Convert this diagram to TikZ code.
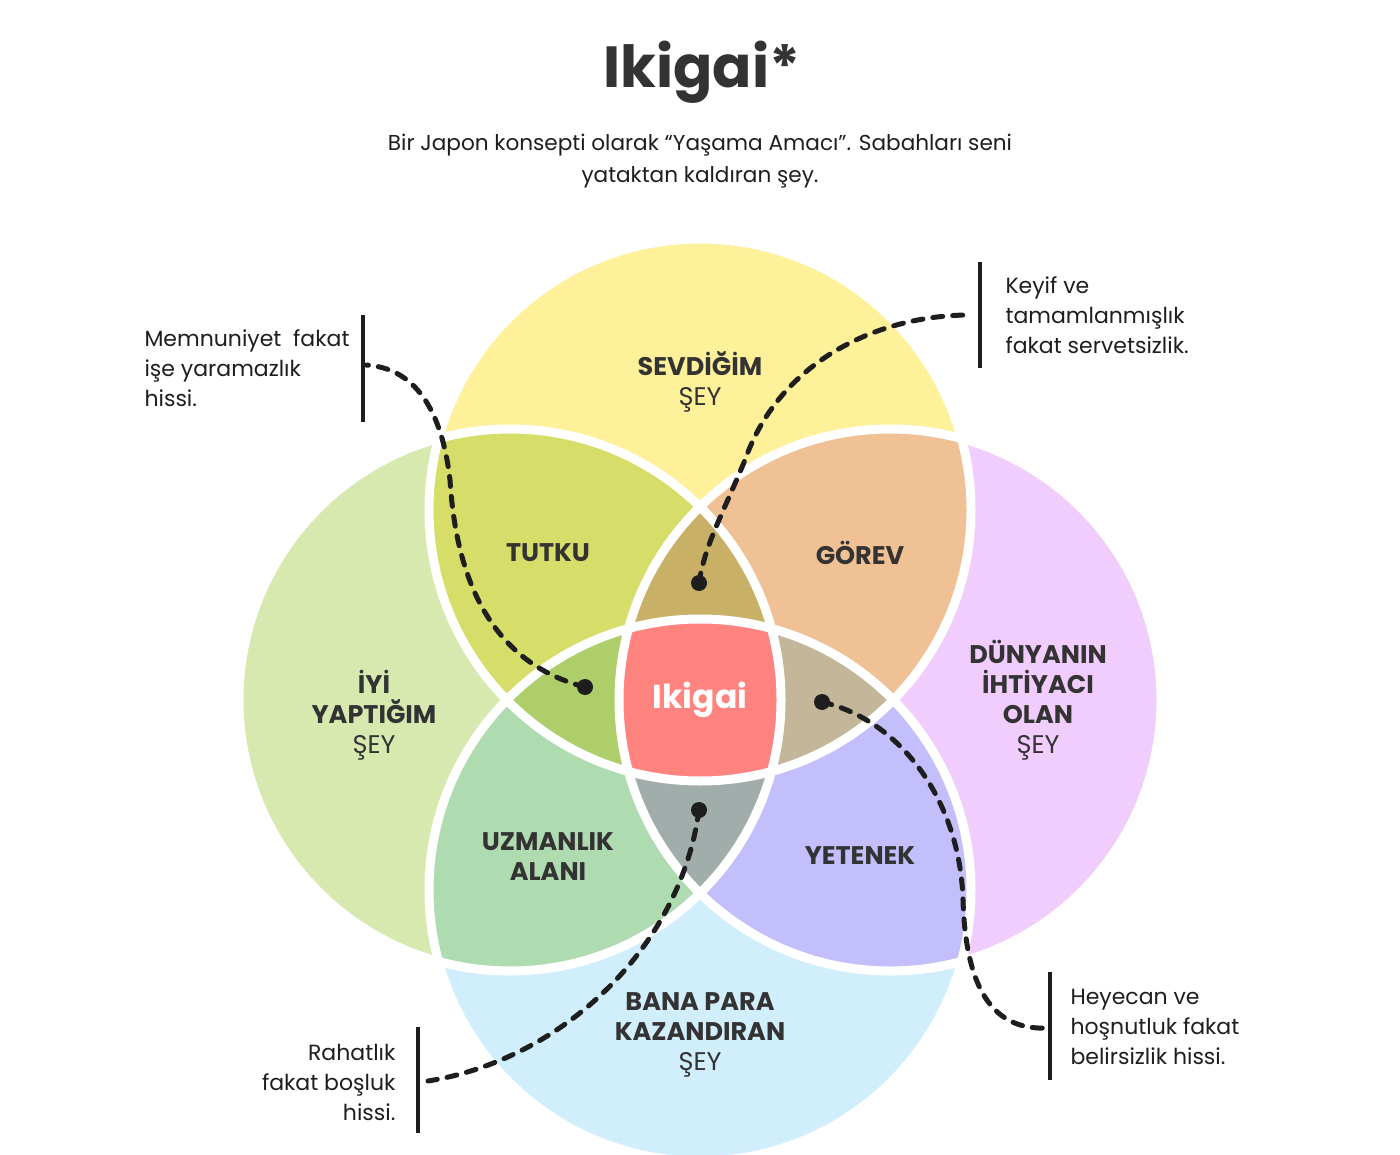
\documentclass[tikz,border=0pt]{standalone}
\usepackage{fontspec}
\setmainfont{Poppins}
\definecolor{cTop}{HTML}{FFF19A}
\definecolor{cLeft}{HTML}{D7E9AF}
\definecolor{cRight}{HTML}{F0CDFC}
\definecolor{cBot}{HTML}{D1EEFD}
\definecolor{cTL}{HTML}{D6DD68}
\definecolor{cTR}{HTML}{EFC195}
\definecolor{cLB}{HTML}{AEDBB0}
\definecolor{cRB}{HTML}{C3BFFC}
\definecolor{cTLR}{HTML}{C8B066}
\definecolor{cTLB}{HTML}{AECE6A}
\definecolor{cTRB}{HTML}{C3B699}
\definecolor{cLRB}{HTML}{A1ADAB}
\definecolor{cAll}{HTML}{FF8480}
\definecolor{ink}{HTML}{333333}
\definecolor{lineink}{HTML}{1E1E1E}
\tikzset{
  lbl/.style={text=ink, align=center, font={\fontsize{25.5}{30}\selectfont\bfseries}},
  note/.style={text=lineink, font={\fontsize{22}{30}\selectfont}},
  barline/.style={draw=lineink, line width=4.5pt},
  dashcurve/.style={draw=lineink, line width=5pt, line cap=round, dash pattern=on 10pt off 10pt},
  dotnode/.style={circle, fill=lineink, inner sep=0pt, minimum size=16pt},
  whiteline/.style={draw=white, line width=9pt}
}
\begin{document}
\begin{tikzpicture}[x=1pt,y=-1pt]
\useasboundingbox (0,0) rectangle (1400,1155);
\def\R{271pt}
\coordinate (T) at (700,510);
\coordinate (L) at (510,700);
\coordinate (R) at (890,700);
\coordinate (B) at (700,890);
% base circles
\fill[cTop] (T) circle[radius=\R];
\fill[cLeft] (L) circle[radius=\R];
\fill[cRight] (R) circle[radius=\R];
\fill[cBot] (B) circle[radius=\R];
% pairs
\begin{scope}\clip (T) circle[radius=\R]; \fill[cTL] (L) circle[radius=\R];\end{scope}
\begin{scope}\clip (T) circle[radius=\R]; \fill[cTR] (R) circle[radius=\R];\end{scope}
\begin{scope}\clip (L) circle[radius=\R]; \fill[cLB] (B) circle[radius=\R];\end{scope}
\begin{scope}\clip (R) circle[radius=\R]; \fill[cRB] (B) circle[radius=\R];\end{scope}
% triples
\begin{scope}\clip (T) circle[radius=\R]; \clip (L) circle[radius=\R]; \fill[cTLR] (R) circle[radius=\R];\end{scope}
\begin{scope}\clip (T) circle[radius=\R]; \clip (L) circle[radius=\R]; \fill[cTLB] (B) circle[radius=\R];\end{scope}
\begin{scope}\clip (T) circle[radius=\R]; \clip (R) circle[radius=\R]; \fill[cTRB] (B) circle[radius=\R];\end{scope}
\begin{scope}\clip (L) circle[radius=\R]; \clip (R) circle[radius=\R]; \fill[cLRB] (B) circle[radius=\R];\end{scope}
% all four
\begin{scope}\clip (T) circle[radius=\R]; \clip (L) circle[radius=\R]; \clip (R) circle[radius=\R]; \fill[cAll] (B) circle[radius=\R];\end{scope}
% white outlines
\draw[whiteline] (T) circle[radius=\R];
\draw[whiteline] (L) circle[radius=\R];
\draw[whiteline] (R) circle[radius=\R];
\draw[whiteline] (B) circle[radius=\R];

% title
\node[text=ink, font={\fontsize{58}{64}\selectfont\bfseries}] (title) at (702,72) {Ikigai*};
\node[text=lineink, align=center, font={\fontsize{21.6}{32}\selectfont}] (sub) at (700,161)
  {Bir Japon konsepti olarak “Yaşama Amacı”. Sabahları seni\\yataktan kaldıran şey.};

% labels
\node[lbl] (sev) at (700,382) {SEVDİĞİM\\{\mdseries ŞEY}};
\node[lbl] (tut) at (548,553) {TUTKU};
\node[lbl] (gor) at (860,553) {GÖREV};
\node[lbl] (iyi) at (374,715) {İYİ\\YAPTIĞIM\\{\mdseries ŞEY}};
\node[lbl] (dun) at (1038,700) {DÜNYANIN\\İHTİYACI\\OLAN\\{\mdseries ŞEY}};
\node[lbl] (uzm) at (548,857) {UZMANLIK\\ALANI};
\node[lbl] (yet) at (860,856) {YETENEK};
\node[lbl] (ban) at (700,1035) {BANA PARA\\KAZANDIRAN\\{\mdseries ŞEY}};
\node[text=white, font={\fontsize{33}{40}\selectfont\bfseries}] (iki) at (700,700) {Ikigai};

% callout 1
\node[note, anchor=west, align=left] (n1) at (141,368) {Memnuniyet\ \ fakat\\işe yaramazlık\\hissi.};
\coordinate (b1t) at (363,315); \coordinate (b1b) at (363,422); \coordinate (b1m) at (366,365);
\draw[barline] (b1t) -- (b1b);
\node[dotnode] (d1) at (585,687) {};
\draw[dashcurve] (d1.center) .. controls (480,660) and (455,560) .. (450,480)
  .. controls (442,410) and (415,368) .. (b1m);

% callout 2
\node[note, anchor=west, align=left] (n2) at (1002,315) {Keyif ve\\tamamlanmışlık\\fakat servetsizlik.};
\coordinate (b2t) at (980,262); \coordinate (b2b) at (980,368); \coordinate (b2m) at (970,315);
\draw[barline] (b2t) -- (b2b);
\node[dotnode] (d2) at (699,583) {};
\draw[dashcurve] (d2.center) .. controls (705,545) and (720,520) .. (745,460)
  .. controls (780,360) and (880,315) .. (b2m);

% callout 3
\node[note, anchor=west, align=left] (n3) at (1067,1027) {Heyecan ve\\hoşnutluk fakat\\belirsizlik hissi.};
\coordinate (b3t) at (1050,972); \coordinate (b3b) at (1050,1080); \coordinate (b3m) at (1047,1028);
\draw[barline] (b3t) -- (b3b);
\node[dotnode] (d3) at (822,702) {};
\draw[dashcurve] (d3.center) .. controls (900,720) and (960,800) .. (963,900)
  .. controls (966,1000) and (1000,1030) .. (b3m);

% callout 4
\node[note, anchor=east, align=right] (n4) at (399,1082) {Rahatlık\\fakat boşluk\\hissi.};
\coordinate (b4t) at (418,1027); \coordinate (b4b) at (418,1133); \coordinate (b4m) at (428,1081);
\draw[barline] (b4t) -- (b4b);
\node[dotnode] (d4) at (699,810) {};
\draw[dashcurve] (d4.center) .. controls (680,950) and (560,1060) .. (b4m);
\end{tikzpicture}
\end{document}
